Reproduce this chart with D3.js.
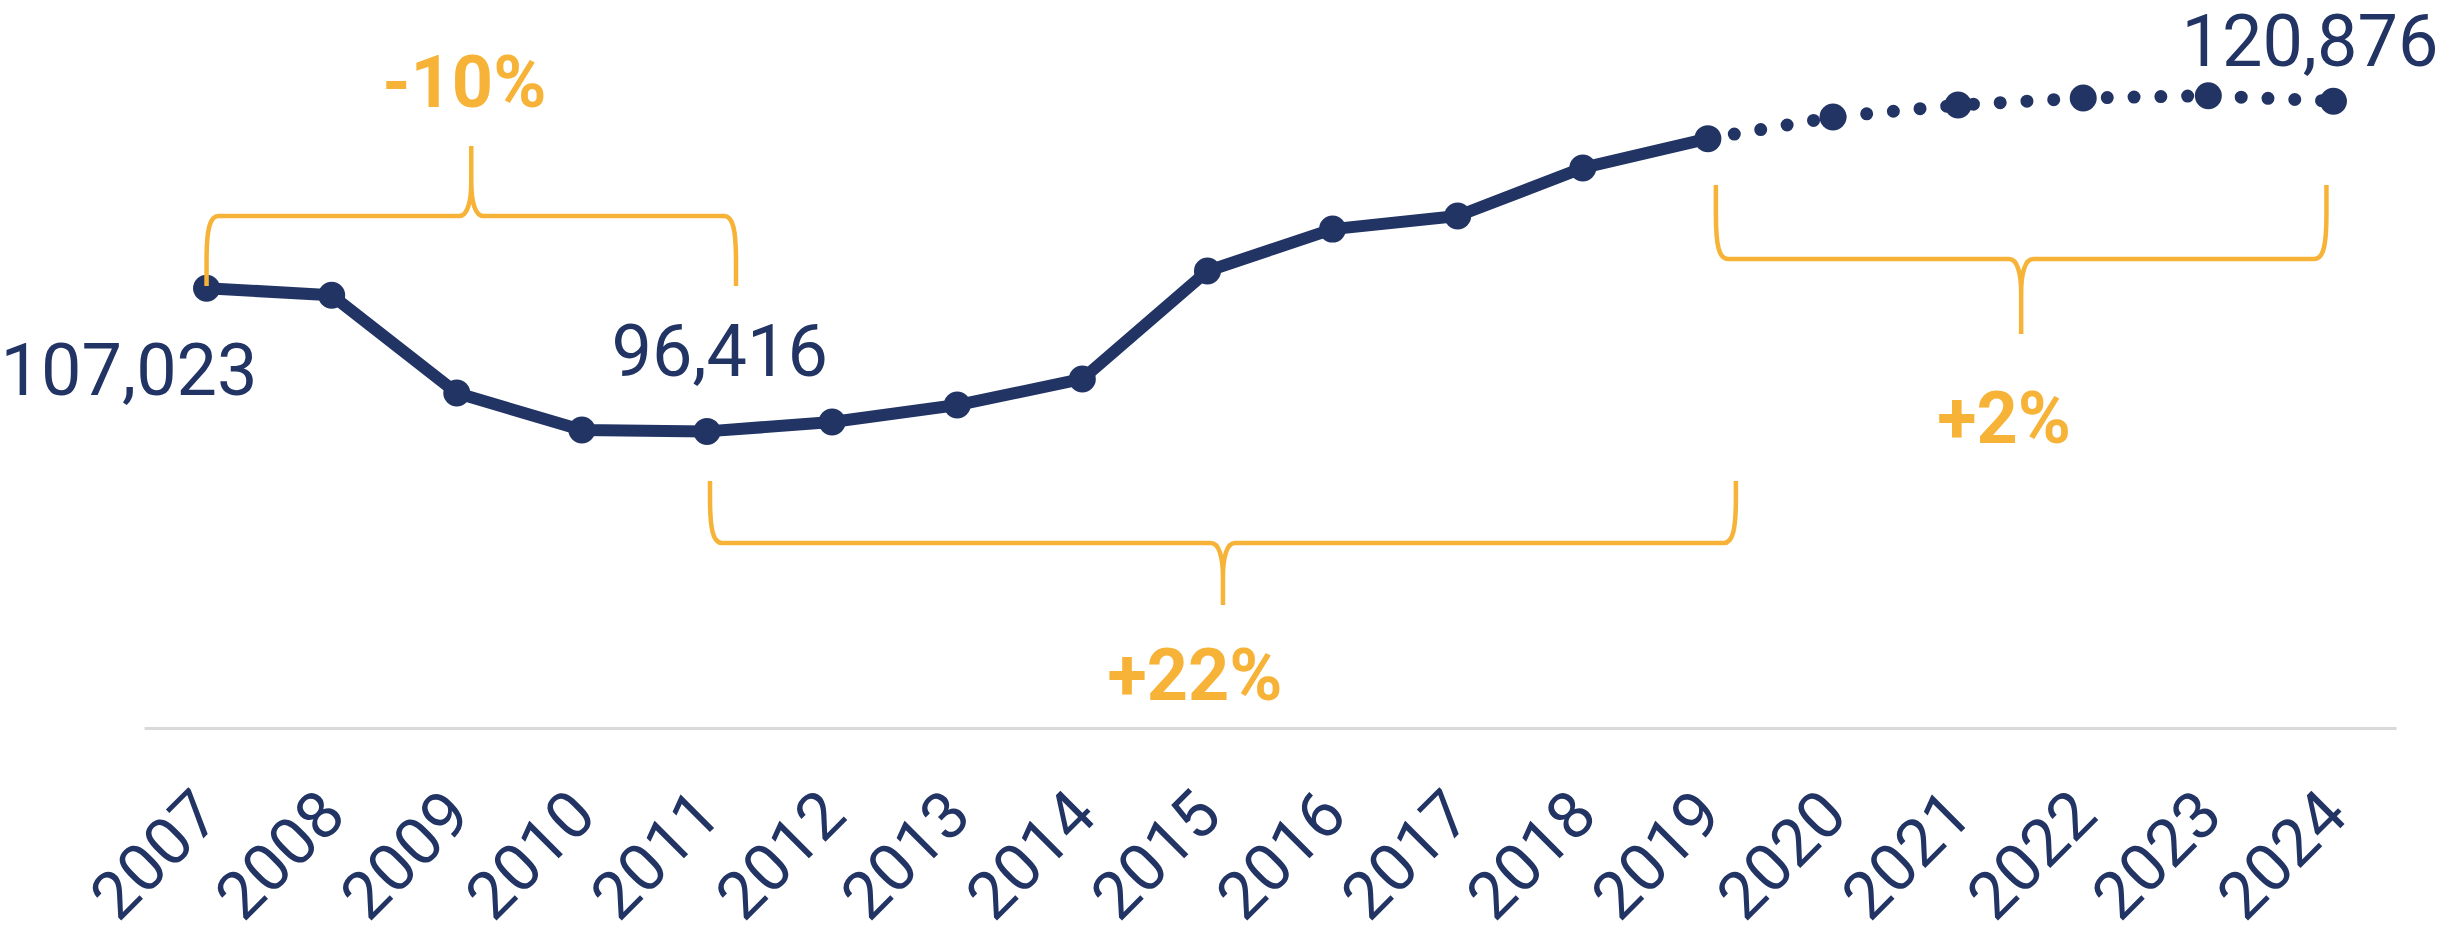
<!DOCTYPE html>
<html>
<head>
<meta charset="utf-8">
<script src="https://cdn.jsdelivr.net/npm/d3@7"></script>
<style>
  body { margin: 0; background: #fff; }
  svg { display: block; }
</style>
</head>
<body>
<div id="chart"></div>
<script>
// Data
const years = ["2007","2008","2009","2010","2011","2012","2013","2014","2015",
               "2016","2017","2018","2019","2020","2021","2022","2023","2024"];
const values = [107023, 106500, 99260, 96520, 96416, 97110, 98370, 100300, 108300,
                111400, 112370, 115930, 118100, 119700, 120590, 121110, 121280, 120876];
const lastActual = "2019";   // solid line up to here, dotted after

// labelled points
const valueLabels = [
  { year: "2007", text: "107,023" },
  { year: "2011", text: "96,416" },
  { year: "2024", text: "120,876" }
];

// change brackets
const changes = [
  { from: "2007", to: "2011", label: "-10%" },
  { from: "2011", to: "2019", label: "+22%" },
  { from: "2019", to: "2024", label: "+2%" }
];

const width = 2450, height = 937;
const navy = "#223464", orange = "#F6B338", grey = "#d9d9d9";
const font = "Roboto, 'Liberation Sans', sans-serif";

const svg = d3.select("#chart").append("svg")
  .attr("width", width)
  .attr("height", height);

const data = years.map((y, i) => ({ year: y, value: values[i] }));

// scales
const x = d3.scalePoint()
  .domain(years)
  .range([144, 2396])
  .padding(0.5);

const y = d3.scaleLinear()
  .domain([90000, 125000])
  .range([518, 45.5]);

// x axis
const axisY = 728;
const gx = svg.append("g")
  .attr("transform", `translate(0,${axisY})`)
  .call(d3.axisBottom(x).tickSize(0).tickSizeOuter(0));

gx.select(".domain")
  .attr("stroke", grey)
  .attr("stroke-width", 3);

// rotated year labels, kept inside the bottom edge
gx.selectAll(".tick text")
  .attr("x", 0)
  .attr("y", 0)
  .attr("dy", "0.35em")
  .attr("transform", "translate(0,74) rotate(-45)")
  .attr("text-anchor", "end")
  .attr("fill", navy)
  .style("font-family", font)
  .style("font-size", "66px");

// line
const line = d3.line()
  .x(d => x(d.year))
  .y(d => y(d.value));

const cut = years.indexOf(lastActual);
const actual = data.slice(0, cut + 1);
const forecast = data.slice(cut);

svg.append("path")
  .datum(forecast)
  .attr("fill", "none")
  .attr("stroke", navy)
  .attr("stroke-width", 13)
  .attr("stroke-linecap", "round")
  .attr("stroke-dasharray", "0 26.8")
  .attr("d", line);

svg.append("path")
  .datum(actual)
  .attr("fill", "none")
  .attr("stroke", navy)
  .attr("stroke-width", 12)
  .attr("stroke-linejoin", "round")
  .attr("d", line);

svg.selectAll(".dot")
  .data(data)
  .join("circle")
  .attr("class", "dot")
  .attr("cx", d => x(d.year))
  .attr("cy", d => y(d.value))
  .attr("r", 13.5)
  .attr("fill", navy);

// value labels
const labelPos = {
  "2007": { dx: 51, dy: 107 },
  "2011": { dx: 121, dy: -55 },
  "2024": { dx: 105, dy: -35 }
};

svg.selectAll(".vlabel")
  .data(valueLabels)
  .join("text")
  .attr("class", "vlabel")
  .attr("x", d => x(d.year) + labelPos[d.year].dx)
  .attr("y", d => y(values[years.indexOf(d.year)]) + labelPos[d.year].dy)
  .attr("text-anchor", "end")
  .attr("fill", navy)
  .style("font-family", font)
  .style("font-size", "72px")
  .text(d => d.text);

// curly brace path between x0 and x1
function brace(x0, x1, yEnd, yBar, yTip) {
  const s = Math.sign(yEnd - yBar), t = -s;
  const xm = (x0 + x1) / 2, r = 12;
  return `M${x0},${yEnd} L${x0},${yBar + s * 45}` +
    ` C${x0},${yBar + s * 14} ${x0 + 3},${yBar} ${x0 + r},${yBar}` +
    ` L${xm - r},${yBar}` +
    ` C${xm - 4},${yBar} ${xm},${yBar + t * 14} ${xm},${yBar + t * 34}` +
    ` L${xm},${yTip} M${xm},${yBar + t * 34}` +
    ` C${xm},${yBar + t * 14} ${xm + 4},${yBar} ${xm + r},${yBar}` +
    ` L${x1 - r},${yBar}` +
    ` C${x1 - 3},${yBar} ${x1},${yBar + s * 14} ${x1},${yBar + s * 45}` +
    ` L${x1},${yEnd}`;
}

const braceLayout = [
  { dx0: 0, dx1: 29, yEnd: 286, yBar: 216, yTip: 146, labelY: 107, labelDx: -7 },
  { dx0: 3, dx1: 28, yEnd: 481, yBar: 543, yTip: 605, labelY: 700, labelDx: -28 },
  { dx0: 8, dx1: -7, yEnd: 185, yBar: 259, yTip: 334, labelY: 443, labelDx: -17 }
];

changes.forEach((c, i) => {
  const L = braceLayout[i];
  const x0 = x(c.from) + L.dx0, x1 = x(c.to) + L.dx1;

  svg.append("path")
    .attr("d", brace(x0, x1, L.yEnd, L.yBar, L.yTip))
    .attr("fill", "none")
    .attr("stroke", orange)
    .attr("stroke-width", 4.5);

  svg.append("text")
    .attr("x", (x0 + x1) / 2 + L.labelDx)
    .attr("y", L.labelY)
    .attr("text-anchor", "middle")
    .attr("fill", orange)
    .style("font-family", font)
    .style("font-weight", "bold")
    .style("font-size", "72px")
    .text(c.label);
});
</script>
</body>
</html>
